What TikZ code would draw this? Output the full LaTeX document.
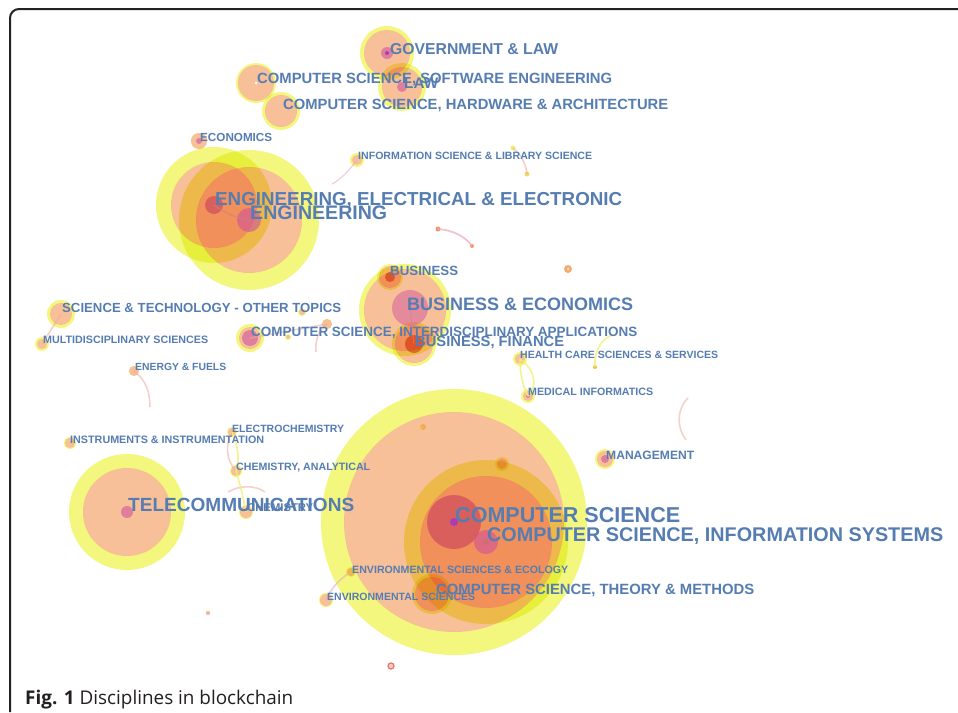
\documentclass[tikz,border=0pt]{standalone}
\usepackage{graphicx}
\usepackage{fontspec}
\setmainfont{Liberation Sans}
\newfontfamily\capfont{Open Sans}
\definecolor{ylw}{RGB}{243,247,125}
\definecolor{slm}{RGB}{248,192,152}
\definecolor{pnk}{RGB}{205,75,160}
\definecolor{prp}{RGB}{170,60,180}
\definecolor{lblc}{RGB}{86,125,178}
\definecolor{edgec}{RGB}{240,170,160}
\definecolor{edgey}{RGB}{240,240,120}
\definecolor{framec}{RGB}{35,35,35}
\definecolor{cisdot}{RGB}{200,110,110}
\definecolor{csarc}{RGB}{240,200,120}
\definecolor{orgdot}{RGB}{240,170,80}
\definecolor{engarc}{RGB}{200,130,130}
\definecolor{bizcore}{RGB}{235,150,110}
\definecolor{pinkline}{RGB}{220,120,160}
\definecolor{pinkarc}{RGB}{235,170,190}
\definecolor{ydot}{RGB}{240,190,60}
\definecolor{odot}{RGB}{245,170,110}
\definecolor{odotin}{RGB}{252,215,190}
\definecolor{pdot}{RGB}{240,150,110}
\definecolor{ydota}{RGB}{240,240,110}
\definecolor{ydotb}{RGB}{240,220,100}
\definecolor{sdot}{RGB}{245,185,150}
\definecolor{ringline}{RGB}{235,120,110}
\definecolor{ringfill}{RGB}{250,210,190}
\definecolor{capc}{RGB}{35,31,32}
\tikzset{
  lab/.style={anchor=west, inner sep=0pt, text=lblc},
  mul/.style={blend mode=multiply},
  core/.style={fill=pnk, fill opacity=0.55},
  faint/.style={line width=1.6pt, draw=edgec, opacity=0.55},
  fainty/.style={line width=1.6pt, draw=edgey, opacity=0.8}
}
\newcommand\labtext[1]{\raisebox{0pt}[\height][0pt]{\bfseries #1}}
% name, x, y, width, text
\newcommand\lab[5]{%
  \node[lab] (#1) at (#2,#3) {\resizebox{#4pt}{!}{\labtext{#5}}};
}
% name, x, y, outer (yellow), inner (salmon), core (pink)
\newcommand\nd[6]{%
  \coordinate (#1) at (#2,#3);
  \fill[ylw, mul, even odd rule] (#1) circle (#4pt) (#1) circle (#5pt);
  \fill[slm, mul] (#1) circle (#5pt);
  \ifdim #6pt>0pt \path[core] (#1) circle (#6pt);\fi
}
\begin{document}
\begin{tikzpicture}[x=1pt,y=-1pt]
\useasboundingbox (0,0) rectangle (958,712);
\fill[white] (0,0) rectangle (958,712);
% frame
\draw[line width=2pt, draw=framec] (958,9) -- (19,9) arc[start angle=90, end angle=180, radius=9pt] -- (10,712);

% ---------- clusters ----------
% computer science
\nd{cs}{454}{522}{133}{110}{27}
\nd{cis}{486}{542}{82}{66}{12}
\fill[prp] (cs) circle (4pt);
\fill[cisdot, opacity=0.6] (cis) circle (3pt);
\nd{cstm}{432}{594}{20}{17}{0}
\nd{csdot}{502}{464}{7}{5}{0}
\coordinate (csa) at (385,442);
\coordinate (csb) at (423,427);
\fill[orgdot] (csb) circle (3pt);
\draw[line width=1.2pt, draw=csarc, opacity=0.7] (csa) .. controls (400,440) and (412,432) .. (csb);

% engineering
\nd{engee}{214}{205}{58}{43}{9}
\nd{eng}{249}{220}{70}{53}{12}
\draw[line width=1.2pt, draw=engarc, opacity=0.6] (engee) .. controls (228,215) and (238,218) .. (eng);

% top
\nd{gov}{387}{53}{27}{23}{6}
\fill[prp] (gov) circle (2pt);
\nd{law}{402}{87}{24}{20}{5}
\nd{cssw}{256}{83}{20}{18}{0}
\fill[white] (cssw) circle (1.5pt);
\nd{cshw}{281}{111}{19}{16}{0}
\nd{econ}{199}{141}{8}{8}{3}
\nd{infosci}{357}{160}{7}{5}{0}

% business
\nd{bizecon}{405}{310}{46}{41}{0}
\nd{biz}{390}{277}{13}{11}{0}
\nd{bizfin}{414}{344}{22}{19}{0}
\path[core, fill opacity=0.45] (410,308) circle (18pt);
\fill[bizcore, mul] (biz) circle (5pt);
\fill[bizcore, mul] (bizfin) circle (9pt);
\draw[line width=1pt, draw=pinkline, opacity=0.5] (410,308) -- (bizfin);

% left side
\nd{scitech}{61}{314}{14}{11}{0}
\nd{multi}{42}{344}{7}{5}{0}
\draw[faint] (scitech) -- (multi);
\nd{csia}{250}{338}{14}{11}{8}
\nd{energy}{134}{371}{5}{5}{0}
\coordinate (energyend) at (150,407);
\draw[faint] (energy) .. controls (146,380) and (150,392) .. (energyend);
\nd{instr}{70}{443}{6}{5}{0}
\nd{electro}{232}{432}{5}{4}{0}
\nd{chemanal}{236}{471}{6}{5}{0}
\draw[faint] (electro) .. controls (225,445) and (226,460) .. (chemanal);
\draw[fainty] (electro) .. controls (238,445) and (240,460) .. (chemanal);
\nd{telecom}{127}{512}{58}{44}{6}
\nd{chem}{246}{512}{7}{6}{0}
\coordinate (chema) at (228,492);
\coordinate (chemb) at (265,492);
\draw[faint] (chema) .. controls (240,485) and (255,485) .. (chemb);
\draw[fainty] (chemanal) .. controls (240,485) and (243,495) .. (chem);

% small misc around csia
\nd{m1}{302}{312}{4}{3}{0}
\nd{m2}{327}{324}{5}{5}{0}
\nd{m3}{288}{337}{3}{2}{0}
\coordinate (m4) at (316,352);
\draw[faint] (m2) .. controls (318,330) and (315,342) .. (m4);
\draw[faint] (m2) -- (csia);

% right side
\nd{health}{520}{359}{7}{5}{0}
\nd{medinf}{528}{396}{7}{5}{2}
\draw[fainty] (health) .. controls (535,370) and (538,385) .. (medinf);
\draw[fainty] (health) .. controls (520,372) and (522,385) .. (medinf);
\coordinate (y1) at (595,367);
\coordinate (y2) at (612,335);
\fill[ydot] (y1) circle (2pt);
\draw[fainty] (y1) .. controls (594,352) and (600,340) .. (y2);
\nd{mgmt}{605}{459}{10}{8}{4}
\coordinate (r1) at (688,398);
\coordinate (r2) at (686,440);
\draw[faint] (r1) .. controls (676,410) and (677,428) .. (r2);
\coordinate (o1) at (568,269);
\fill[odot] (o1) circle (4pt);
\fill[odotin] (o1) circle (1.5pt);
\coordinate (p1) at (438,229);
\coordinate (p2) at (472,246);
\fill[pdot] (p1) circle (2.5pt);
\fill[pdot] (p2) circle (2pt);
\draw[line width=1.8pt, draw=pinkarc, opacity=0.7] (p1) .. controls (452,230) and (465,236) .. (p2);
\coordinate (t1) at (513,148);
\coordinate (t2) at (527,174);
\fill[ydota] (t1) circle (2.5pt);
\fill[ydotb] (t2) circle (2.5pt);
\draw[faint] (t1) .. controls (522,155) and (526,165) .. (t2);
\coordinate (is2) at (332,184);
\draw[line width=1.2pt, draw=pinkarc, opacity=0.6] (infosci) .. controls (348,172) and (340,180) .. (is2);

% bottom
\nd{envecol}{351}{572}{5}{4}{0}
\nd{envsci}{326}{600}{7}{6}{0}
\draw[line width=1.5pt, draw=pinkarc, opacity=0.6] (envsci) .. controls (330,590) and (340,578) .. (envecol);
\coordinate (d1) at (208,613);
\fill[sdot] (d1) circle (2.2pt);
\coordinate (d2) at (391,666);
\draw[line width=1.3pt, draw=ringline, fill=ringfill] (d2) circle (3pt);

% ---------- labels ----------
\lab{lgov}{390}{49}{168}{GOVERNMENT \& LAW}
\lab{lcssw}{257}{78}{355}{COMPUTER SCIENCE, SOFTWARE ENGINEERING}
\lab{llaw}{404}{83}{34}{LAW}
\lab{lcshw}{283}{104}{385}{COMPUTER SCIENCE, HARDWARE \& ARCHITECTURE}
\lab{lecon}{200}{137}{72}{ECONOMICS}
\lab{linfo}{358}{156}{234}{INFORMATION SCIENCE \& LIBRARY SCIENCE}
\lab{lengee}{215}{199}{407}{ENGINEERING, ELECTRICAL \& ELECTRONIC}
\lab{leng}{250}{213}{137}{ENGINEERING}
\lab{lbiz}{390}{271}{68}{BUSINESS}
\lab{lbizecon}{407}{304}{226}{BUSINESS \& ECONOMICS}
\lab{lscitech}{62}{308}{279}{SCIENCE \& TECHNOLOGY - OTHER TOPICS}
\lab{lcsia}{251}{332}{386}{COMPUTER SCIENCE, INTERDISCIPLINARY APPLICATIONS}
\lab{lbizfin}{415}{341}{149}{BUSINESS, FINANCE}
\lab{lmulti}{43}{340}{165}{MULTIDISCIPLINARY SCIENCES}
\lab{lhealth}{520}{355}{198}{HEALTH CARE SCIENCES \& SERVICES}
\lab{lenergy}{135}{367}{91}{ENERGY \& FUELS}
\lab{lmedinf}{528}{392}{125}{MEDICAL INFORMATICS}
\lab{lelectro}{232}{429}{112}{ELECTROCHEMISTRY}
\lab{linstr}{70}{440}{194}{INSTRUMENTS \& INSTRUMENTATION}
\lab{lmgmt}{606}{455}{88}{MANAGEMENT}
\lab{lchemanal}{236}{467}{134}{CHEMISTRY, ANALYTICAL}
\lab{ltelecom}{128}{505}{226}{TELECOMMUNICATIONS}
\lab{lchem}{247}{508}{66}{CHEMISTRY}
\lab{lcs}{455}{515}{225}{COMPUTER SCIENCE}
\lab{lcis}{487}{535}{456}{COMPUTER SCIENCE, INFORMATION SYSTEMS}
\lab{lenvecol}{352}{570}{216}{ENVIRONMENTAL SCIENCES \& ECOLOGY}
\lab{lcstm}{436}{589}{318}{COMPUTER SCIENCE, THEORY \& METHODS}
\lab{lenvsci}{327}{597}{148}{ENVIRONMENTAL SCIENCES}

% caption
\node[anchor=base west, inner sep=0pt, text=capc] (cap) at (25,704)
  {\resizebox{268pt}{!}{\capfont\textbf{Fig. 1} Disciplines in blockchain}};
\end{tikzpicture}
\end{document}
